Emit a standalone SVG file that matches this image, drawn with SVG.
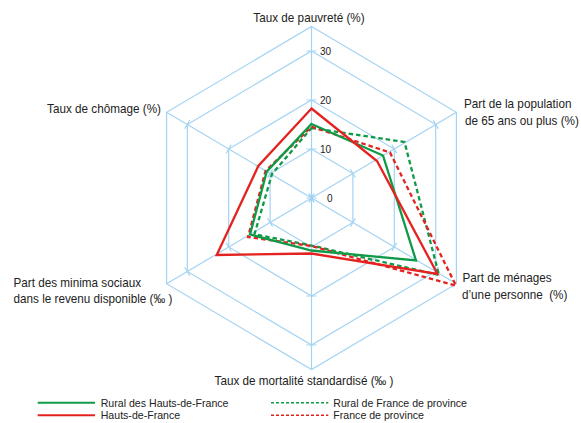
<svg xmlns="http://www.w3.org/2000/svg" width="581" height="423" viewBox="0 0 581 423">
<style>
.grid{fill:none;stroke:#a3d3f2;stroke-width:1.2}
text{font-family:"Liberation Sans",Arial,sans-serif;fill:#222}
.lbl{font-size:12.6px}
.tk{font-size:10.8px}
.leg{font-size:11.4px}
.s{fill:none;stroke-width:2.3;stroke-linejoin:miter}
.red{stroke:#e42320}
.green{stroke:#0f9a48}
.d{stroke-dasharray:4.5,3}
.ld{stroke-dasharray:3,2}
</style>
<rect width="581" height="423" fill="#fff"/>
<g id="grid" class="grid">
<polygon points="311.5,149 352.9,173.5 352.9,222.5 311.5,247 270.1,222.5 270.1,173.5"/>
<polygon points="311.5,100 394.3,149 394.3,247 311.5,296 228.7,247 228.7,149"/>
<polygon points="311.5,51 435.7,124.5 435.7,271.5 311.5,345 187.3,271.5 187.3,124.5"/>
<polygon points="311.5,26.5 456.4,112.25 456.4,283.75 311.5,369.5 166.6,283.75 166.6,112.25"/>
<path d="M311.5,198V26.5M311.5,198V369.5M311.5,198L456.4,112.25M311.5,198L456.4,283.75M311.5,198L166.6,112.25M311.5,198L166.6,283.75"/>
<g id="ticks">
<path d="M306.5,198h10M306.5,149h10M306.5,100h10M306.5,51h10"/>
<path d="M306.5,247h10M306.5,296h10M306.5,345h10"/>
<path d="M309,193.7l5,8.6M350.4,169.2l5,8.6M391.8,144.7l5,8.6M433.2,120.2l5,8.6"/>
<path d="M309,202.3l5,-8.6M350.4,226.8l5,-8.6M391.8,251.3l5,-8.6M433.2,275.8l5,-8.6"/>
<path d="M314,193.7l-5,8.6M272.6,169.2l-5,8.6M231.2,144.7l-5,8.6M189.8,120.2l-5,8.6"/>
<path d="M314,202.3l-5,-8.6M272.6,226.8l-5,-8.6M231.2,251.3l-5,-8.6M189.8,275.8l-5,-8.6"/>
</g>
</g>
<g id="scale" class="tk">
<text transform="translate(327,201.5) scale(0.93,1)">0</text>
<text transform="translate(320,152.5) scale(0.93,1)">10</text>
<text transform="translate(320,103.5) scale(0.93,1)">20</text>
<text transform="translate(320,54.5) scale(0.93,1)">30</text>
</g>
<g id="series">
<polygon id="rural-france-province" class="s green d" points="311.5,128 404.5,142 439,275 311.5,245.5 254.5,234.3 272,174"/>
<polygon id="france-province" class="s red d" points="311.5,126.7 390,152.5 456,285.7 311.5,246 248,237 265.5,171"/>
<polygon id="rural-hdf" class="s green" points="311.5,124 383,155.5 416,260.5 311.5,250.5 250,234.5 266.7,171.7"/>
<polygon id="hdf" class="s red" points="311.5,108.5 377,161 437.5,274 311.5,253.5 216.7,255 258.3,166"/>
</g>
<g id="axis-labels" class="lbl">
<text transform="translate(309,21.5) scale(0.93,1)" text-anchor="middle">Taux de pauvreté (%)</text>
<text transform="translate(464,108) scale(0.93,1)">Part de la population</text>
<text transform="translate(465,125) scale(0.93,1)">de 65 ans ou plus (%)</text>
<text transform="translate(462.5,282) scale(0.93,1)">Part de ménages</text>
<text transform="translate(462,299) scale(0.93,1)">d’une personne<tspan dx="7">(%)</tspan></text>
<text transform="translate(304,385) scale(0.93,1)" text-anchor="middle">Taux de mortalité standardisé (‰ )</text>
<text transform="translate(13.5,286.5) scale(0.93,1)">Part des minima sociaux</text>
<text transform="translate(13.5,303) scale(0.93,1)">dans le revenu disponible (‰ )</text>
<text transform="translate(161,113) scale(0.93,1)" text-anchor="end">Taux de chômage (%)</text>
</g>
<g id="legend">
<line class="s green" x1="37.7" y1="402.7" x2="95" y2="402.7" style="stroke-width:2"/>
<line class="s red" x1="37.7" y1="415.3" x2="95" y2="415.3" style="stroke-width:2"/>
<line class="s green ld" x1="271" y1="402.7" x2="328.3" y2="402.7" style="stroke-width:1.6"/>
<line class="s red ld" x1="271" y1="415.3" x2="328.3" y2="415.3" style="stroke-width:1.6"/>
<text class="leg" transform="translate(100.7,406.7) scale(0.93,1)">Rural des Hauts-de-France</text>
<text class="leg" transform="translate(100.7,419.4) scale(0.93,1)">Hauts-de-France</text>
<text class="leg" transform="translate(333.3,406.7) scale(0.93,1)">Rural de France de province</text>
<text class="leg" transform="translate(333.3,419.4) scale(0.93,1)">France de province</text>
</g>
</svg>
